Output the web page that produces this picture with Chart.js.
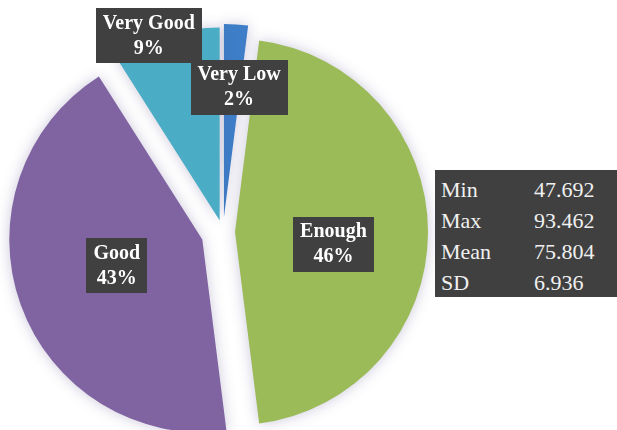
<!DOCTYPE html>
<html>
<head>
<meta charset="utf-8">
<script src="https://cdn.jsdelivr.net/npm/chart.js@4/dist/chart.umd.min.js"></script>
<style>
  html, body { margin: 0; padding: 0; background: #fff; }
  .wrap { position: relative; width: 617px; height: 430px; overflow: hidden; }
  #pie { position: absolute; left: 0; top: 0; }
  .stats {
    position: absolute; left: 435px; top: 170px; width: 182px; height: 127px;
    background: #404040; color: #f0f0f0;
    font-family: "Liberation Serif", "Times New Roman", Times, "DejaVu Serif", serif; font-size: 22px;
  }
  .stats table { border-collapse: collapse; margin-top: 4px; }
  .stats td { padding: 0; height: 31px; line-height: 31px; }
  .stats td.k { width: 93px; padding-left: 6px; }
</style>
</head>
<body>
<div class="wrap">
  <canvas id="pie" width="617" height="430"></canvas>
  <div class="stats"><table id="statTable"></table></div>
</div>
<script>
// data
const categories = ['Very Low', 'Enough', 'Good', 'Very Good'];
const shares = [2, 46, 43, 9];
const statNames = ['Min', 'Max', 'Mean', 'SD'];
const statValues = ['47.692', '93.462', '75.804', '6.936'];

const colors = ['#3e7dc8', '#9bbb59', '#8064a2', '#4bacc6'];
const explode = [15, 12, 22, 12];          // px each slice is pulled out
const labelRadius = [0.675, 0.51, 0.46, 1.02];
const labelNudge = [[7, 0], [0, 12], [-2, -4], [-16, 4]];
const labelFont = 'bold 20px "Liberation Serif", "Times New Roman", Times, "DejaVu Serif", serif';

// stats box
const tbl = document.getElementById('statTable');
statNames.forEach((n, i) => {
  const tr = document.createElement('tr');
  tr.innerHTML = '<td class="k">' + n + '</td><td>' + statValues[i] + '</td>';
  tbl.appendChild(tr);
});

const explodePlugin = {
  id: 'explode',
  afterDatasetUpdate(chart, args) {
    args.meta.data.forEach((arc, i) => {
      const mid = (arc.startAngle + arc.endAngle) / 2;
      arc.x += Math.cos(mid) * explode[i];
      arc.y += Math.sin(mid) * explode[i];
    });
  },
  beforeDatasetDraw(chart) {
    const ctx = chart.ctx;
    ctx.save();
    ctx.shadowColor = 'rgba(95,85,140,0.32)';
    ctx.shadowBlur = 14;
  },
  afterDatasetDraw(chart) {
    chart.ctx.restore();
  }
};

const labelPlugin = {
  id: 'boxLabels',
  afterDatasetsDraw(chart) {
    const ctx = chart.ctx;
    const meta = chart.getDatasetMeta(0);
    const total = shares.reduce((a, b) => a + b, 0);
    ctx.save();
    ctx.font = labelFont;
    ctx.textAlign = 'center';
    ctx.textBaseline = 'middle';
    meta.data.forEach((arc, i) => {
      const mid = (arc.startAngle + arc.endAngle) / 2;
      const r = arc.outerRadius * labelRadius[i];
      const cx = arc.x + Math.cos(mid) * r + labelNudge[i][0];
      const cy = arc.y + Math.sin(mid) * r + labelNudge[i][1];
      const lines = [categories[i], Math.round(shares[i] / total * 100) + '%'];
      const w = Math.max(...lines.map(l => ctx.measureText(l).width)) + 14;
      const h = 55;
      ctx.fillStyle = '#404040';
      ctx.fillRect(Math.round(cx - w / 2), Math.round(cy - h / 2), Math.round(w), h);
      ctx.fillStyle = '#ffffff';
      ctx.fillText(lines[0], cx, cy - 12);
      ctx.fillText(lines[1], cx, cy + 13);
    });
    ctx.restore();
  }
};

const ctx = document.getElementById('pie').getContext('2d');
new Chart(ctx, {
  type: 'pie',
  data: {
    labels: categories,
    datasets: [{
      data: shares,
      backgroundColor: colors,
      borderWidth: 0,
      radius: 193,
      clip: false
    }]
  },
  options: {
    responsive: false,
    animation: false,
    events: [],
    layout: { padding: { left: 2, right: 173, top: 34, bottom: 0 } },
    plugins: {
      legend: { display: false },
      tooltip: { enabled: false }
    }
  },
  plugins: [explodePlugin, labelPlugin]
});
</script>
</body>
</html>
